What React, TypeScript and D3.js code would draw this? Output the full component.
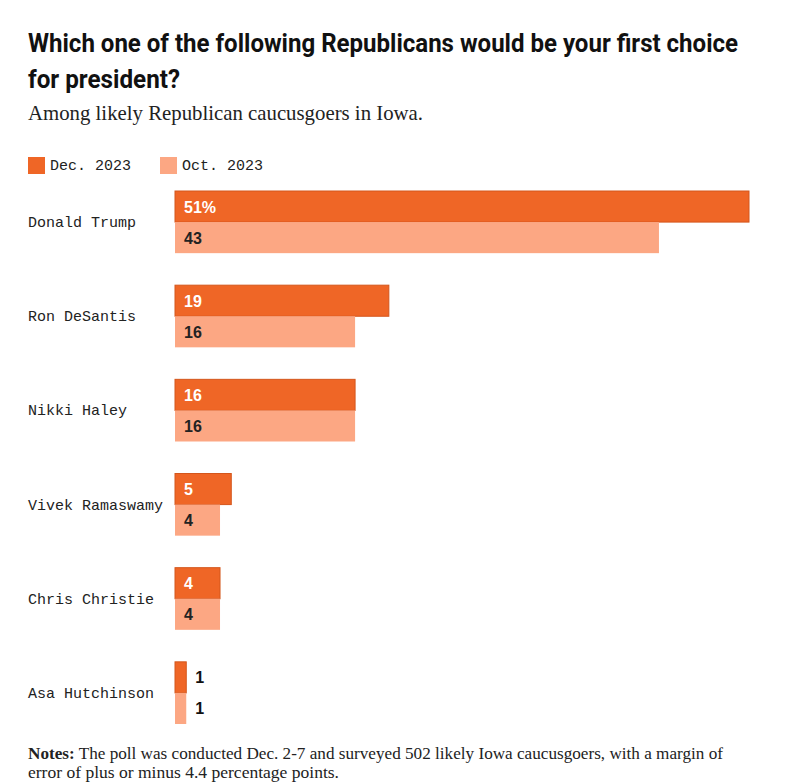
import * as d3 from "d3";
import { useEffect, useRef } from "react";

const candidates = [
  "Donald Trump",
  "Ron DeSantis",
  "Nikki Haley",
  "Vivek Ramaswamy",
  "Chris Christie",
  "Asa Hutchinson",
];
const dec2023 = [51, 19, 16, 5, 4, 1];
const oct2023 = [43, 16, 16, 4, 4, 1];
const seriesNames = ["Dec. 2023", "Oct. 2023"];
const seriesColors = ["#ef6626", "#fca783"];

const width = 800;
const height = 783;

function App() {
  const ref = useRef(null);

  useEffect(() => {
    const svg = d3.select(ref.current);
    svg.selectAll("*").remove();

    const x = d3.scaleLinear().domain([0, 51]).range([175, 749]);
    const y = d3.scaleBand().domain(candidates).range([175, 740]).paddingInner(0.34).paddingOuter(0.17);
    const sub = d3.scaleBand().domain(seriesNames).range([0, y.bandwidth()]);

    // title, squeezed a little to mimic the condensed face
    const title = svg.append("g").attr("font-family", "Roboto, sans-serif")
      .attr("font-weight", 700).attr("font-size", 26).attr("fill", "#111");
    title.append("text").attr("x", 28).attr("y", 52)
      .attr("textLength", 710).attr("lengthAdjust", "spacingAndGlyphs")
      .text("Which one of the following Republicans would be your first choice");
    title.append("text").attr("x", 28).attr("y", 88)
      .attr("textLength", 152).attr("lengthAdjust", "spacingAndGlyphs")
      .text("for president?");

    svg.append("text").attr("x", 28).attr("y", 120)
      .attr("font-family", "'Liberation Serif', serif").attr("font-size", 21).attr("fill", "#222")
      .attr("textLength", 395).attr("lengthAdjust", "spacingAndGlyphs")
      .text("Among likely Republican caucusgoers in Iowa.");

    // legend
    const legend = svg.append("g").selectAll("g").data(seriesNames).join("g")
      .attr("transform", (d, i) => `translate(${28 + i * 132},157)`);
    legend.append("rect").attr("width", 17).attr("height", 17).attr("fill", (d, i) => seriesColors[i]);
    legend.append("text").attr("x", 22).attr("y", 13)
      .attr("font-family", "'Liberation Mono', monospace").attr("font-size", 15).attr("fill", "#222")
      .text((d) => d);

    const rows = svg.append("g").selectAll("g").data(candidates).join("g")
      .attr("transform", (d) => `translate(0,${y(d)})`);

    rows.append("text").attr("x", 28).attr("y", y.bandwidth() / 2 + 5)
      .attr("font-family", "'Liberation Mono', monospace").attr("font-size", 15).attr("fill", "#222")
      .text((d) => d);

    const bars = rows.selectAll("g.bar")
      .data((d, i) => [
        { s: 0, v: dec2023[i], label: i === 0 ? `${dec2023[i]}%` : `${dec2023[i]}` },
        { s: 1, v: oct2023[i], label: `${oct2023[i]}` },
      ])
      .join("g").attr("class", "bar")
      .attr("transform", (d) => `translate(0,${sub(seriesNames[d.s])})`);

    bars.append("rect")
      .attr("x", x(0))
      .attr("width", (d) => x(d.v) - x(0))
      .attr("height", sub.bandwidth())
      .attr("fill", (d) => seriesColors[d.s])
      .attr("stroke", (d) => (d.s === 0 ? "#d4561c" : "none"))
      .attr("stroke-width", 1);

    bars.append("text")
      .attr("x", (d) => (d.v < 2 ? x(d.v) + 9 : x(0) + 9))
      .attr("y", sub.bandwidth() / 2 + 6)
      .attr("font-family", "'Liberation Sans', Arial, sans-serif").attr("font-weight", 700).attr("font-size", 16)
      .attr("fill", (d) => (d.v < 2 ? "#111" : d.s === 0 ? "#fff" : "#222"))
      .text((d) => d.label);

    const notes = svg.append("g").attr("font-family", "'Liberation Serif', serif").attr("font-size", 17).attr("fill", "#222");
    const n1 = notes.append("text").attr("x", 28).attr("y", 759)
      .attr("textLength", 695).attr("lengthAdjust", "spacingAndGlyphs");
    n1.append("tspan").attr("font-weight", 700).text("Notes:");
    n1.append("tspan").text(" The poll was conducted Dec. 2-7 and surveyed 502 likely Iowa caucusgoers, with a margin of");
    notes.append("text").attr("x", 28).attr("y", 778)
      .attr("textLength", 311).attr("lengthAdjust", "spacingAndGlyphs")
      .text("error of plus or minus 4.4 percentage points.");
  }, []);

  return (
    <svg ref={ref} width={width} height={height}
      style={{ position: "absolute", left: 0, top: 0, background: "#fff" }} />
  );
}

export default App;
